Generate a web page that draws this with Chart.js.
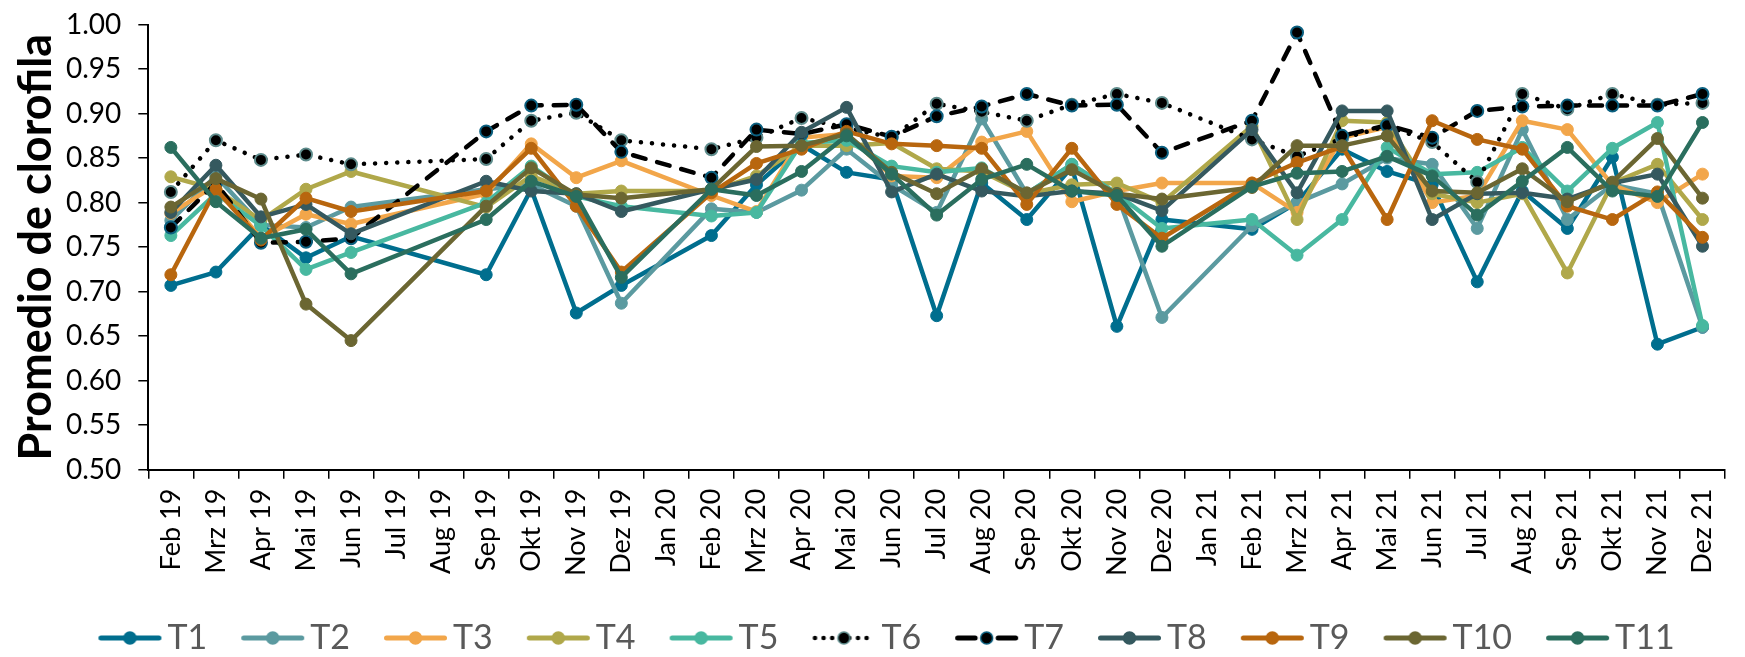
<!DOCTYPE html>
<html>
<head>
<meta charset="utf-8">
<script src="https://cdn.jsdelivr.net/npm/chart.js@4.4.1/dist/chart.umd.min.js"></script>
<style>
  html, body { margin: 0; padding: 0; background: #fff; }
</style>
</head>
<body>
<canvas id="lineChart" width="1745" height="657"></canvas>
<script>
const months = ['Feb 19', 'Mrz 19', 'Apr 19', 'Mai 19', 'Jun 19', 'Jul 19', 'Aug 19', 'Sep 19', 'Okt 19', 'Nov 19', 'Dez 19',
  'Jan 20', 'Feb 20', 'Mrz 20', 'Apr 20', 'Mai 20', 'Jun 20', 'Jul 20', 'Aug 20', 'Sep 20', 'Okt 20', 'Nov 20', 'Dez 20',
  'Jan 21', 'Feb 21', 'Mrz 21', 'Apr 21', 'Mai 21', 'Jun 21', 'Jul 21', 'Aug 21', 'Sep 21', 'Okt 21', 'Nov 21', 'Dez 21'];

const seriesNames = ['T1', 'T2', 'T3', 'T4', 'T5', 'T6', 'T7', 'T8', 'T9', 'T10', 'T11'];

const t1 = [0.707, 0.722, 0.775, 0.738, 0.762, null, null, 0.719, 0.815, 0.676, 0.707, null, 0.763, 0.820, 0.865, 0.834, 0.826, 0.673, 0.822, 0.781, 0.840, 0.661, 0.781, null, 0.770, 0.800, 0.860, 0.835, 0.820, 0.711, 0.813, 0.771, 0.851, 0.641, 0.660];
const t2 = [0.780, 0.830, 0.775, 0.772, 0.795, null, null, 0.815, 0.820, 0.796, 0.687, null, 0.793, 0.789, 0.814, 0.860, 0.820, 0.789, 0.894, 0.810, 0.843, 0.810, 0.671, null, 0.774, 0.800, 0.821, 0.850, 0.843, 0.771, 0.882, 0.781, 0.820, 0.810, 0.660];
const t3 = [0.788, 0.820, 0.760, 0.787, 0.776, null, null, 0.810, 0.866, 0.828, 0.847, null, 0.808, 0.790, 0.873, 0.877, 0.830, 0.828, 0.868, 0.880, 0.801, 0.813, 0.822, null, 0.822, 0.789, 0.873, 0.885, 0.800, 0.808, 0.892, 0.882, 0.820, 0.800, 0.832];
const t4 = [0.829, 0.815, 0.780, 0.815, 0.835, null, null, 0.795, 0.830, 0.810, 0.813, null, 0.813, 0.830, 0.864, 0.864, 0.867, 0.838, 0.835, 0.810, 0.820, 0.822, 0.800, null, 0.886, 0.781, 0.892, 0.890, 0.810, 0.800, 0.810, 0.721, 0.822, 0.843, 0.781];
const t5 = [0.763, 0.810, 0.774, 0.725, 0.744, null, null, 0.800, 0.841, 0.807, 0.796, null, 0.785, 0.789, 0.867, 0.870, 0.841, 0.834, 0.839, 0.810, 0.843, 0.810, 0.771, null, 0.781, 0.741, 0.781, 0.862, 0.832, 0.834, 0.862, 0.813, 0.861, 0.890, 0.662];
const t6 = [0.812, 0.870, 0.848, 0.854, 0.843, null, null, 0.849, 0.892, 0.901, 0.870, null, 0.860, 0.873, 0.895, 0.884, 0.873, 0.911, 0.902, 0.892, 0.910, 0.922, 0.912, null, 0.871, 0.852, 0.872, 0.886, 0.868, 0.823, 0.922, 0.905, 0.922, 0.910, 0.912];
const t7 = [0.772, 0.822, 0.755, 0.756, 0.760, null, null, 0.880, 0.909, 0.910, 0.857, null, 0.828, 0.882, 0.877, 0.888, 0.874, 0.897, 0.908, 0.922, 0.909, 0.910, 0.856, null, 0.892, 0.991, 0.875, 0.887, 0.873, 0.903, 0.908, 0.909, 0.909, 0.909, 0.922];
const t8 = [0.789, 0.842, 0.784, 0.798, 0.765, null, null, 0.824, 0.813, 0.810, 0.790, null, 0.815, 0.826, 0.879, 0.907, 0.812, 0.832, 0.813, 0.807, 0.813, 0.810, 0.791, null, 0.882, 0.811, 0.903, 0.903, 0.781, 0.810, 0.811, 0.804, 0.822, 0.832, 0.751];
const t9 = [0.719, 0.815, 0.758, 0.805, 0.790, null, null, 0.813, 0.861, 0.796, 0.722, null, 0.811, 0.844, 0.860, 0.880, 0.866, 0.864, 0.861, 0.798, 0.861, 0.798, 0.760, null, 0.822, 0.845, 0.863, 0.781, 0.892, 0.871, 0.860, 0.796, 0.781, 0.812, 0.761];
const t10 = [0.795, 0.827, 0.804, 0.686, 0.645, null, null, 0.796, 0.839, 0.809, 0.805, null, 0.815, 0.863, 0.864, 0.877, 0.834, 0.810, 0.838, 0.811, 0.837, 0.810, 0.804, null, 0.817, 0.864, 0.864, 0.875, 0.813, 0.811, 0.838, 0.801, 0.823, 0.872, 0.805];
const t11 = [0.862, 0.801, 0.760, 0.770, 0.720, null, null, 0.781, 0.824, 0.807, 0.716, null, 0.815, 0.808, 0.835, 0.875, 0.832, 0.786, 0.826, 0.843, 0.813, 0.808, 0.751, null, 0.818, 0.833, 0.835, 0.852, 0.830, 0.786, 0.824, 0.862, 0.813, 0.807, 0.890];

const seriesData = [t1, t2, t3, t4, t5, t6, t7, t8, t9, t10, t11];

// styles
const lineColors = ['#006e8e', '#5b9aa0', '#f2a64a', '#b0a84a', '#48b8a0', '#000000', '#000000', '#35595f', '#b8660e', '#6b6632', '#2a6e5e'];
const markerFill = ['#006e8e', '#5b9aa0', '#f2a64a', '#b0a84a', '#48b8a0', '#000000', '#000000', '#35595f', '#b8660e', '#6b6632', '#2a6e5e'];
const markerEdge = ['#006e8e', '#5b9aa0', '#f2a64a', '#b0a84a', '#48b8a0', '#5e8c8c', '#0b6080', '#35595f', '#b8660e', '#6b6632', '#2a6e5e'];
const lineDash = [[], [], [], [], [], [0.1, 11], [13, 12], [], [], [], []];
const sampleDash = [[], [], [], [], [], [0.1, 8.5], [17.5, 23], [], [], [], []];

Chart.defaults.font.family = 'Lato';

// legend sample: line with marker, drawn off-centre so it sits close to the text
function makeSample(i) {
  const c = document.createElement('canvas');
  c.width = 112; c.height = 16;
  const g = c.getContext('2d');
  g.lineCap = 'round';
  g.lineWidth = i === 5 ? 4.5 : 5;
  g.strokeStyle = lineColors[i];
  g.setLineDash(sampleDash[i]);
  g.beginPath(); g.moveTo(47.5, 8); g.lineTo(105.5, 8); g.stroke();
  g.setLineDash([]);
  g.beginPath(); g.arc(76.5, 8, 6, 0, Math.PI * 2);
  g.fillStyle = markerFill[i]; g.fill();
  g.lineWidth = 1.5; g.strokeStyle = markerEdge[i]; g.stroke();
  return c;
}
const samples = seriesNames.map((n, i) => makeSample(i));

const datasets = seriesNames.map((name, i) => ({
  label: name,
  data: seriesData[i],
  borderColor: lineColors[i],
  backgroundColor: markerFill[i],
  pointBackgroundColor: markerFill[i],
  pointBorderColor: markerEdge[i],
  pointBorderWidth: (i === 5 || i === 6) ? 2 : 1,
  pointRadius: 6,
  pointHoverRadius: 6,
  borderWidth: 4.5,
  borderDash: lineDash[i],
  borderCapStyle: 'round',
  borderJoinStyle: 'round',
  spanGaps: true,
  tension: 0,
  order: seriesNames.length - i
}));

const ctxLine = document.getElementById('lineChart').getContext('2d');
new Chart(ctxLine, {
  type: 'line',
  data: { labels: months, datasets: datasets },
  options: {
    responsive: false,
    animation: false,
    layout: { padding: { top: 0, right: 2, bottom: 0, left: 0 } },
    plugins: {
      tooltip: { enabled: false },
      legend: {
        position: 'bottom',
        maxHeight: 40,
        labels: {
          usePointStyle: true,
          pointStyleWidth: 82,
          padding: 4,
          color: '#595959',
          font: { size: 34 },
          generateLabels: (chart) => chart.data.datasets.map((ds, i) => ({
            text: ds.label,
            pointStyle: samples[i],
            datasetIndex: i,
            hidden: false,
            lineWidth: 0,
            fillStyle: 'transparent',
            strokeStyle: 'transparent',
            fontColor: '#595959'
          }))
        }
      }
    },
    scales: {
      x: {
        offset: true,
        grid: { display: true, drawOnChartArea: false, drawTicks: true, tickLength: 9, color: '#000', lineWidth: 1.5, offset: true },
        border: { display: true, color: '#000', width: 2 },
        ticks: { color: '#000', font: { size: 27 }, minRotation: 90, maxRotation: 90, autoSkip: false, padding: 10 },
        title: { display: true, text: '', font: { size: 10 }, padding: { top: 0, bottom: 19 } }
      },
      y: {
        min: 0.5,
        max: 1.0,
        grid: { drawOnChartArea: false, drawTicks: true, tickLength: 10, color: '#000', lineWidth: 1.5 },
        border: { display: true, color: '#000', width: 2 },
        ticks: { stepSize: 0.05, color: '#000', font: { size: 28, lineHeight: 0.54 }, padding: 17, callback: (v) => v.toFixed(2) },
        title: { display: true, text: 'Promedio de clorofila', color: '#000', font: { size: 45, weight: 'bold' }, padding: { top: 9, bottom: -14 } }
      }
    }
  }
});
</script>
</body>
</html>
